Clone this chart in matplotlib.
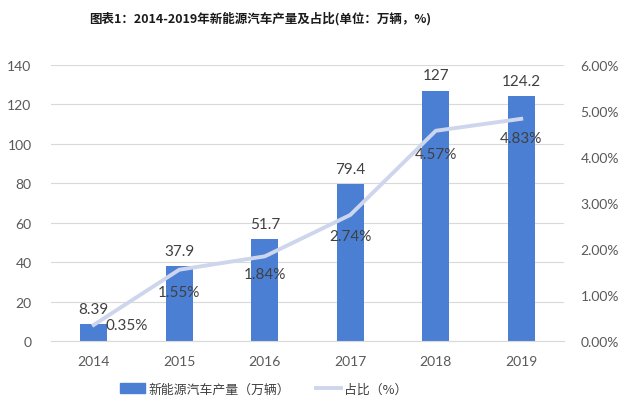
import matplotlib
matplotlib.use("Agg")
import matplotlib.pyplot as plt
from matplotlib.ticker import FuncFormatter
from matplotlib.patches import Patch
from matplotlib.lines import Line2D

plt.rcParams['font.family'] = ['Lato', 'Noto Sans CJK SC', 'DejaVu Sans']

years = ['2014', '2015', '2016', '2017', '2018', '2019']
production = [8.39, 37.9, 51.7, 79.4, 127, 124.2]
share = [0.35, 1.55, 1.84, 2.74, 4.57, 4.83]
prod_labels = ['8.39', '37.9', '51.7', '79.4', '127', '124.2']
share_labels = ['0.35%', '1.55%', '1.84%', '2.74%', '4.57%', '4.83%']

bar_color = '#4a7fd4'
line_color = '#cdd6ec'
tick_color = '#595959'

fig = plt.figure(figsize=(6.4, 4.02), dpi=100)
ax = fig.add_axes([51/640, 1-342/402, (564-51)/640, 276/402])
x = list(range(len(years)))
ax.bar(x, production, width=0.32, color=bar_color, zorder=2)
ax.set_ylim(0, 140)
ax.set_xlim(-0.5, 5.5)
ax.set_yticks(range(0, 141, 20))
ax.grid(axis='y', color='#d9d9d9', linewidth=0.8, zorder=0)
for s in ax.spines.values():
    s.set_visible(False)
ax.spines['bottom'].set_visible(True)
ax.spines['bottom'].set_color('#d9d9d9')
ax.tick_params(axis='both', length=0, colors=tick_color, labelsize=10)
ax.tick_params(axis='x', pad=10)
ax.tick_params(axis='y', pad=14)
ax.set_xticks(x)
ax.set_xticklabels(years)

for xi, v, lab in zip(x, production, prod_labels):
    ax.annotate(lab, (xi, v), xytext=(0, 6), textcoords='offset points',
                ha='center', va='bottom', fontsize=11, color='#404040')

ax2 = ax.twinx()
ax2.set_ylim(0, 6)
ax2.set_yticks(range(0, 7))
ax2.yaxis.set_major_formatter(FuncFormatter(lambda v, p: f'{v:.2f}%'))
for s in ax2.spines.values():
    s.set_visible(False)
ax2.tick_params(axis='y', length=0, colors=tick_color, labelsize=10, pad=12)
ax2.plot(x, share, color=line_color, linewidth=2.8, zorder=3)

offsets = [(24, 0), (0, -16), (0, -13), (0, -15), (0, -17), (0, -14)]
for xi, v, lab, off in zip(x, share, share_labels, offsets):
    ax2.annotate(lab, (xi, v), xytext=off, textcoords='offset points',
                 ha='center', va='center', fontsize=11, color='#404040', zorder=4)

fig.text(260/640, 1-19/402, '图表1：2014-2019年新能源汽车产量及占比(单位：万辆，%)',
         ha='center', va='center', fontsize=9, fontweight='bold', color='#1a1a1a',
         family=['Noto Sans CJK SC', 'DejaVu Sans'])

handles = [Patch(color=bar_color), Line2D([0], [0], color=line_color, linewidth=2.8)]
fig.legend(handles, ['新能源汽车产量（万辆）', '占比（%）'], loc='center',
           bbox_to_anchor=(264/640, 1-390/402), ncol=2, frameon=False,
           labelcolor='#404040', handlelength=1.9, handleheight=0.9,
           columnspacing=2.0, handletextpad=0.3,
           prop={'family': ['Noto Sans CJK SC', 'DejaVu Sans'], 'size': 9.3})

fig.savefig('out.png', dpi=100)
